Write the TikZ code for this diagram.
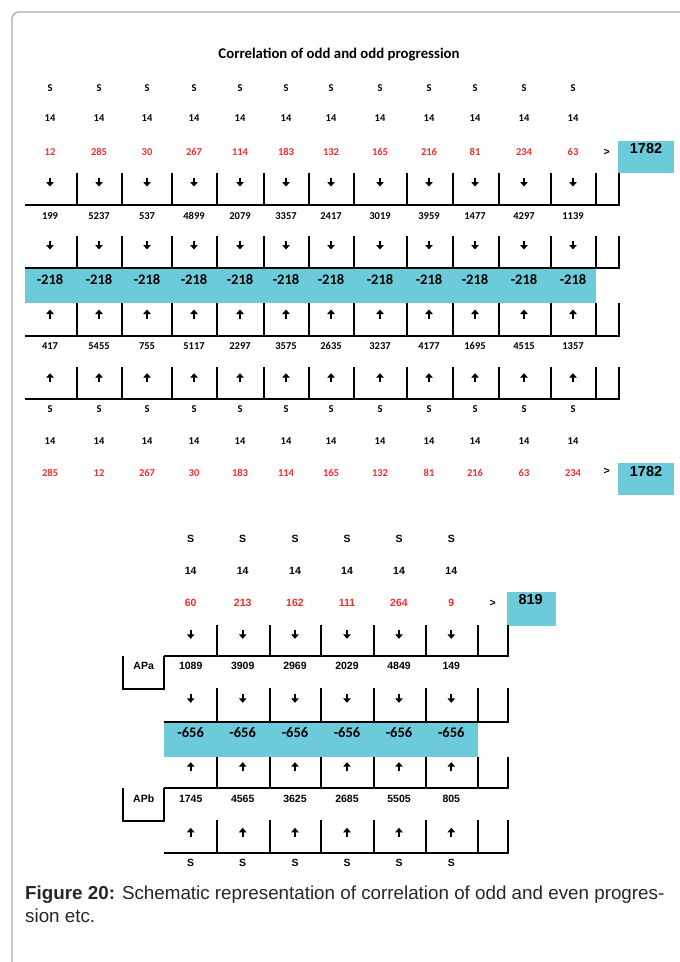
\documentclass[tikz,border=0pt]{standalone}
\usepackage{fontspec}
\setmainfont{Carlito}
\newfontfamily\arialfont{Liberation Sans}
\usepackage{xcolor}
\usetikzlibrary{positioning, arrows.meta}
\definecolor{bandcyan}{HTML}{6CCBDA}
\definecolor{numred}{HTML}{F22B2B}
\definecolor{framegray}{HTML}{A8A8A8}

\begin{document}
\begin{tikzpicture}[x=1pt, y=-1pt,
    cell/.style={inner sep=0pt, text depth=0pt, font=\fontsize{10.5}{12}\selectfont\bfseries},
    acell/.style={cell, font=\arialfont\fontsize{10.5}{12}\selectfont\bfseries},
    arr/.style={line width=2.2pt, -{Triangle[width=7.5pt, length=4.5pt]}},
    big/.style={cell, font=\fontsize{14.5}{16}\selectfont\bfseries},
    total/.style={cell, font=\arialfont\fontsize{14.5}{16}\selectfont\bfseries},
    grid/.style={line width=2pt}]
    \useasboundingbox (0,0) rectangle (680,962);
    \clip (0,0) rectangle (680,962);
    \draw[framegray, line width=1.3pt, rounded corners=7pt] (12,12) rectangle (720,1010);
    
    % odd and odd
    \node[cell, font=\fontsize{14.8}{16}\selectfont\bfseries] (title) at (339,53) {Correlation of odd and odd progression};
    \fill[bandcyan] (25,268) rectangle (596,303);
    \fill[bandcyan] (618,141) rectangle (674,173);
    \fill[bandcyan] (618,463.3) rectangle (674,495);
    \foreach \x/\a/\b/\c/\d [count=\i] in {50/12/199/417/285, 99/285/5237/5455/12, 147/30/537/755/267,
        194/267/4899/5117/30, 240/114/2079/2297/183, 286/183/3357/3575/114, 331/132/2417/2635/165,
        380/165/3019/3237/132, 429/216/3959/4177/81, 475/81/1477/1695/216, 524/234/4297/4515/63,
        573/63/1139/1357/234}{
        \node[cell] (s\i) at (\x,88) {S};
        \node[cell] (k\i) at (\x,118.5) {14};
        \node[cell, numred] (r\i) at (\x,152) {\a};
        \draw[arr] (\x,177.5) -- (\x,186.5);
        \node[cell] (p\i) at (\x,216) {\b};
        \draw[arr] (\x,240.5) -- (\x,249.5);
        \node[big] (m\i) at (\x,279) {-218};
        \draw[arr] (\x,318.5) -- (\x,309.5);
        \node[cell] (q\i) at (\x,345.7) {\c};
        \draw[arr] (\x,382.2) -- (\x,373.2);
        \node[cell] (t\i) at (\x,409) {S};
        \node[cell] (l\i) at (\x,440.7) {14};
        \node[cell, numred] (w\i) at (\x,473.3) {\d};
    }
    \foreach \x in {76.7,122,172,217,263.7,309.3,354.3,406.7,453,498.7,550.7,596}
        \foreach \ya/\yb in {173/205, 236/268, 303/335.7, 366.7/399.3}
            \draw[grid] (\x,\ya) -- (\x,\yb);
    \foreach \ya/\yb in {173/205, 236/268, 303/335.7, 366.7/399.3}
        \draw[grid] (618.7,\ya) -- (618.7,\yb) -- (25,\yb);
    \node[acell] (gt1) at (606.7,152) {>};
    \node[total] (sum1) at (646,148.7) {1782};
    \node[acell] (gt2) at (606.7,471) {>};
    \node[total] (sum2) at (646,471) {1782};
    
    % odd and even
    \fill[bandcyan] (164.3,721.7) rectangle (477.7,756.7);
    \fill[bandcyan] (507,592) rectangle (556,626);
    \foreach \x/\a/\b/\c [count=\i] in {190.7/60/1089/1745, 242.7/213/3909/4565, 295/162/2969/3625,
        347/111/2029/2685, 399/264/4849/5505, 451.3/9/149/805}{
        \node[acell] (S\i) at (\x,539) {S};
        \node[acell] (K\i) at (\x,570.7) {14};
        \node[acell, numred] (R\i) at (\x,603) {\a};
        \draw[arr] (\x,629.8) -- (\x,638.8);
        \node[acell] (P\i) at (\x,666) {\b};
        \draw[arr] (\x,693.8) -- (\x,702.8);
        \node[big] (M\i) at (\x,732.3) {-656};
        \draw[arr] (\x,771.2) -- (\x,762.2);
        \node[acell] (Q\i) at (\x,798.7) {\c};
        \draw[arr] (\x,836.8) -- (\x,827.8);
        \node[acell] (T\i) at (\x,863.3) {S};
    }
    \foreach \x in {217,269.7,321,374,425.7,477.7}
        \foreach \ya/\yb in {625/656, 688/721.7, 756.7/787.7, 820/852.7}
            \draw[grid] (\x,\ya) -- (\x,\yb);
    \foreach \ya/\yb in {625/656, 688/721.7, 756.7/787.7, 820/852.7}
        \draw[grid] (507.7,\ya) -- (507.7,\yb) -- (164.3,\yb);
    \draw[grid] (122.7,656) -- (122.7,689) -- (164.3,689) -- (164.3,656);
    \draw[grid] (122.7,787.7) -- (122.7,820.7) -- (164.3,820.7) -- (164.3,787.7);
    \node[acell] (apa) at (143.7,666) {APa};
    \node[acell] (apb) at (143.7,798.7) {APb};
    \node[acell] (gt3) at (492.7,603) {>};
    \node[total] (sum3) at (530.7,599.7) {819};
    
    % caption
    \node[anchor=base west, inner sep=0pt, black!85, font=\arialfont\fontsize{18.8}{22}\selectfont] (cap1) at (25,899.5)
        {\textbf{Figure 20:} Schematic representation of correlation of odd and even progres-};
    \node[anchor=base west, inner sep=0pt, black!85, font=\arialfont\fontsize{18.8}{22}\selectfont] (cap2) at (25,922) {sion etc.};
\end{tikzpicture}
\end{document}
